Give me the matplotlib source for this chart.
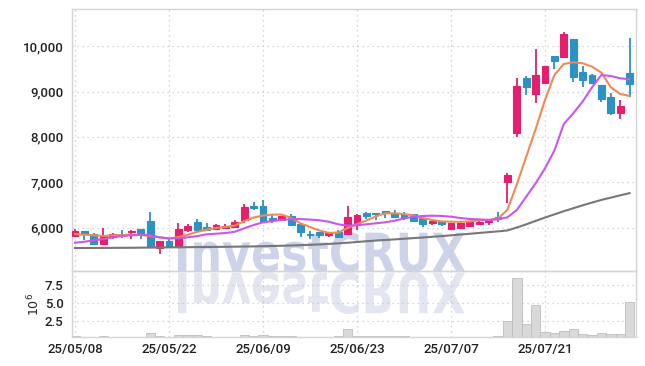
import numpy as np
import matplotlib
matplotlib.use('Agg')
import matplotlib.pyplot as plt
from matplotlib.textpath import TextPath
from matplotlib.patches import PathPatch
from matplotlib.font_manager import FontProperties
from matplotlib.transforms import Affine2D, IdentityTransform
from matplotlib.ticker import FuncFormatter

# daily candles, 25/05/08 .. 25/08/01 (60 trading days)
opens = [5820, 5925, 5850, 5645, 5800, 5850, 5905, 5965, 6140, 5540,
         5700, 5565, 5940, 6115, 6010, 5970, 6000, 6020, 6160, 6475,
         6475, 6200, 6160, 6255, 6070, 5850, 5895, 5835, 5895, 5850,
         6095, 6325, 6315, 6355, 6325, 6275, 6295, 6200, 6100, 6145,
         5960, 6000, 6040, 6085, 6115, 6225, 7010, 8080, 9295, 8950,
         9200, 9785, 9760, 10160, 9440, 9365, 9145, 8890, 8520, 9420]
highs = [5975, 5930, 5870, 6000, 5870, 5940, 5945, 5970, 6350, 5705,
         5745, 6095, 6070, 6190, 6090, 6070, 6075, 6160, 6510, 6555,
         6600, 6270, 6260, 6290, 6075, 5925, 5900, 5905, 5945, 6475,
         6290, 6345, 6320, 6370, 6385, 6345, 6300, 6205, 6160, 6150,
         6095, 6100, 6140, 6160, 6175, 6350, 7210, 9295, 9345, 9935,
         9570, 9790, 10320, 10165, 9565, 9390, 9150, 8960, 8815, 10175]
lows = [5810, 5730, 5640, 5640, 5750, 5775, 5740, 5740, 5570, 5415,
        5575, 5560, 5905, 5945, 5945, 5945, 5960, 6010, 6100, 6385,
        6125, 6100, 6150, 6050, 5800, 5740, 5760, 5785, 5770, 5840,
        5945, 6180, 6165, 6205, 6205, 6165, 6140, 6020, 6045, 6040,
        5955, 5990, 6030, 6045, 6060, 6130, 6535, 7990, 8925, 8755,
        9195, 9495, 9755, 9220, 9095, 9180, 8760, 8485, 8390, 8890]
closes = [5930, 5850, 5645, 5820, 5850, 5830, 5930, 5855, 5575, 5700,
          5580, 5960, 6035, 5950, 5950, 6050, 6025, 6115, 6450, 6440,
          6130, 6160, 6250, 6055, 5910, 5825, 5845, 5870, 5780, 6230,
          6275, 6260, 6290, 6325, 6240, 6225, 6150, 6080, 6145, 6085,
          6090, 6090, 6135, 6125, 6145, 6195, 7160, 9125, 9110, 9370,
          9565, 9685, 10270, 9315, 9260, 9185, 8840, 8535, 8685, 9170]
volumes = [0.45, 0.30, 0.25, 0.40, 0.30, 0.25, 0.20, 0.30, 0.85, 0.40,
           0.30, 0.55, 0.50, 0.50, 0.45, 0.30, 0.25, 0.30, 0.50, 0.40,
           0.50, 0.35, 0.40, 0.35, 0.30, 0.25, 0.20, 0.25, 0.35, 1.35,
           0.45, 0.40, 0.35, 0.40, 0.40, 0.35, 0.25, 0.20, 0.20, 0.20,
           0.20, 0.15, 0.20, 0.20, 0.30, 0.40, 2.50, 8.40, 2.10, 4.70,
           1.00, 0.80, 1.10, 1.40, 0.70, 0.50, 0.85, 0.70, 0.70, 5.10]

# moving averages as drawn
ma5 = [5856, 5841, 5828, 5812, 5828, 5834, 5841, 5834, 5812, 5783,
       5753, 5790, 5840, 5905, 5950, 5990, 6010, 6045, 6140, 6220,
       6265, 6285, 6285, 6210, 6090, 6010, 5935, 5880, 5890, 5990,
       6075, 6155, 6245, 6313, 6313, 6295, 6270, 6210, 6166, 6135,
       6128, 6125, 6135, 6160, 6170, 6200, 6390, 6950, 7560, 8170,
       8815, 9367, 9610, 9648, 9626, 9552, 9418, 9095, 8948, 8904]
ma20 = [5664, 5686, 5717, 5746, 5783, 5812, 5828, 5841, 5828, 5783,
        5761, 5761, 5783, 5810, 5850, 5863, 5878, 5907, 5982, 6055,
        6115, 6143, 6166, 6185, 6185, 6175, 6160, 6128, 6071, 6040,
        6050, 6071, 6093, 6115, 6150, 6200, 6238, 6254, 6261, 6255,
        6238, 6210, 6188, 6180, 6166, 6181, 6225, 6386, 6680, 6976,
        7307, 7700, 8285, 8520, 8780, 9095, 9367, 9345, 9294, 9272]
ma60 = [5547, 5548, 5549, 5550, 5551, 5552, 5553, 5555, 5557, 5559,
        5562, 5564, 5566, 5568, 5570, 5572, 5574, 5577, 5580, 5583,
        5587, 5592, 5597, 5603, 5610, 5618, 5627, 5638, 5650, 5664,
        5680, 5697, 5712, 5725, 5738, 5752, 5766, 5780, 5795, 5810,
        5828, 5845, 5862, 5880, 5898, 5915, 5935, 6000, 6070, 6145,
        6220, 6290, 6360, 6425, 6490, 6550, 6610, 6660, 6710, 6760]

tick_pos = [0, 10, 20, 30, 40, 50]
tick_labels = ['25/05/08', '25/05/22', '25/06/09', '25/06/23', '25/07/07', '25/07/21']

UP = '#e61e6e'
DOWN = '#2b92c4'
GRID = '#c4c8da'
SPINE = '#d4d4d4'
tick_font = ['Roboto', 'DejaVu Sans']

W, H = 645, 366
fig = plt.figure(figsize=(W / 100, H / 100), dpi=100, facecolor='white')
ax = fig.add_axes([72 / W, (H - 271) / H, (636 - 72) / W, (271 - 9) / H])
axv = fig.add_axes([72 / W, (H - 337) / H, (636 - 72) / W, (337 - 271) / H], sharex=ax)
for a in (ax, axv):
    a.set_facecolor('none')
    for s in a.spines.values():
        s.set_color(SPINE)
        s.set_linewidth(1.0)
    a.grid(True, linestyle=(0, (1, 3)), color=GRID, linewidth=0.9)
    a.set_axisbelow(True)
    a.tick_params(length=0, labelsize=9.5, labelcolor='#222222', pad=6)

# watermark with reflection
tp = TextPath((0, 0), 'InvestCRUX', size=1,
              prop=FontProperties(family='DejaVu Sans', weight='bold'))
bb = tp.get_extents()
sx = (465 - 178) / bb.width
sy = 40 / bb.height
base = H - 272
tr = Affine2D().translate(-bb.x0, -bb.y0).scale(sx, sy).translate(178, base)
p1 = tr.transform_path(tp)
fig.add_artist(PathPatch(p1, transform=IdentityTransform(), facecolor='#cdd3e8',
                         edgecolor='none', zorder=-1))
tr2 = Affine2D().translate(-bb.x0, -bb.y0).scale(sx, -sy * 1.05).translate(178, base)
p2 = tr2.transform_path(tp)
fig.add_artist(PathPatch(p2, transform=IdentityTransform(), facecolor='#e3e6f1',
                         edgecolor='none', zorder=-1))

x = np.arange(len(opens))
o = np.array(opens); c = np.array(closes)
cols = [UP if cc >= oo else DOWN for oo, cc in zip(o, c)]
ax.vlines(x, lows, highs, colors=cols, linewidth=1.3, zorder=3)
ax.bar(x, np.abs(c - o), bottom=np.minimum(o, c), width=0.72, color=cols,
       edgecolor=cols, linewidth=0.8, zorder=4)

ax.plot(x, ma5, color='#f08a52', linewidth=1.5, zorder=5)
ax.plot(x, ma20, color='#cc55ee', linewidth=1.5, zorder=5)
ax.plot(x, ma60, color='#777777', linewidth=1.5, zorder=5)

ax.set_ylim(5040, 10824)
ax.set_yticks([6000, 7000, 8000, 9000, 10000])
ax.yaxis.set_major_formatter(FuncFormatter(lambda v, p: f'{v:,.0f}'))
ax.set_xlim(-0.32, 59.68)
plt.setp(ax.get_xticklabels(), visible=False)

vol = np.array(volumes) * 1e6
axv.bar(x, vol, width=1.0, color='#d9d9d9', edgecolor='#bdbdbd', linewidth=0.6, zorder=2)
axv.set_ylim(0.28e6, 9.44e6)
axv.set_yticks([2.5e6, 5e6, 7.5e6])
axv.set_yticklabels(['2.5', '5.0', '7.5'])
axv.set_ylabel(r'$10^6$', fontsize=9, color='#222222', labelpad=2)
axv.set_xticks(tick_pos)
axv.set_xticklabels(tick_labels)
axv.tick_params(axis='x', pad=4)

for lab in ax.get_yticklabels() + axv.get_yticklabels() + axv.get_xticklabels():
    lab.set_family(tick_font)
    lab.set_fontweight('medium')

fig.savefig('out.png', dpi=100, facecolor='white')
